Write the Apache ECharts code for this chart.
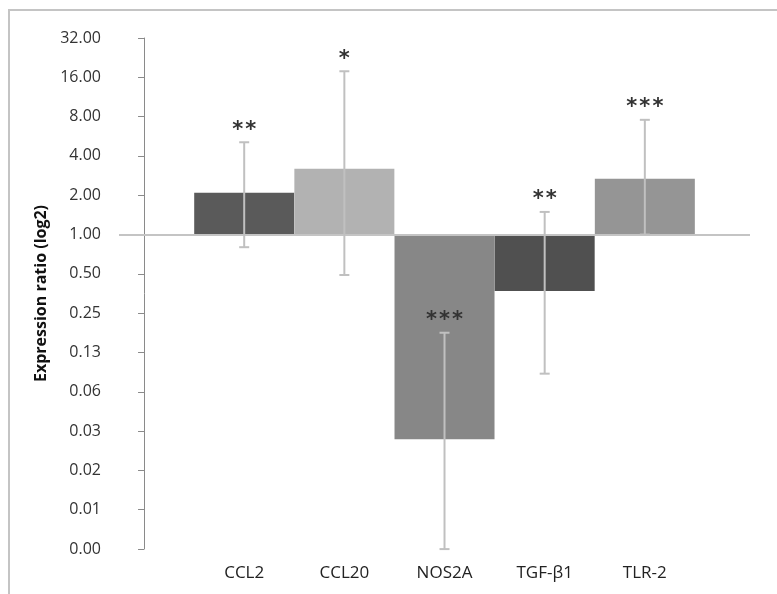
<!DOCTYPE html>
<html>
<head>
<meta charset="utf-8">
<script src="https://cdn.jsdelivr.net/npm/echarts@6/dist/echarts.min.js"></script>
<style>
  html, body { margin: 0; padding: 0; background: #fff; }
  #chart { width: 777px; height: 594px; }
</style>
</head>
<body>
<div id="chart"></div>
<script>
// Expression ratios (fold change)
const genes    = ['CCL2', 'CCL20', 'NOS2A', 'TGF-β1', 'TLR-2'];
const ratios   = [2.09, 3.19, 0.027, 0.37, 2.67];
const errLow   = [0.80, 0.49, 0.0039, 0.086, 1.0];
const errHigh  = [5.09, 17.8, 0.177, 1.49, 7.56];
const stars    = ['**', '*', '***', '**', '***'];
const barColors = ['#5a5a5a', '#b2b2b2', '#878787', '#505050', '#959595'];

const log2 = v => Math.log(v) / Math.LN2;

const chart = echarts.init(document.getElementById('chart'), null, { renderer: 'canvas' });

const barData = genes.map((g, i) => ({
  value: [i + 1, log2(ratios[i])],
  itemStyle: { color: barColors[i] }
}));

const errData = genes.map((g, i) => [i + 1, log2(errLow[i]), log2(errHigh[i]), stars[i]]);

chart.setOption({
  animation: false,
  textStyle: { fontFamily: 'Open Sans' },
  graphic: [{
    type: 'rect',
    shape: { x: 9, y: 10, width: 800, height: 620 },
    style: { fill: 'none', stroke: '#c4c4c4', lineWidth: 2 },
    silent: true
  }],
  grid: { left: 119, right: 27, top: 38, bottom: 45 },
  xAxis: {
    type: 'value',
    min: -0.25,
    max: 6.05,
    interval: 0.25,
    axisLine: { show: false },
    axisTick: { show: false },
    splitLine: { show: false },
    axisLabel: {
      margin: 16,
      fontSize: 17,
      color: '#222',
      formatter: v => {
        const r = Math.round(v);
        return (Math.abs(v - r) < 1e-6 && r >= 1 && r <= genes.length) ? genes[r - 1] : '';
      }
    }
  },
  yAxis: {
    type: 'value',
    min: -8,
    max: 5,
    interval: 1,
    name: 'Expression ratio (log2)',
    nameLocation: 'middle',
    nameGap: 65,
    nameTextStyle: { fontSize: 16, fontWeight: 'bold', color: '#111' },
    axisLine: { show: true, lineStyle: { color: '#8a8a8a', width: 1 } },
    axisTick: { show: true, length: 6, lineStyle: { color: '#8a8a8a' } },
    splitLine: { show: false },
    axisLabel: {
      margin: 18,
      fontSize: 16,
      color: '#333',
      formatter: v => Math.pow(2, v).toFixed(2)
    }
  },
  series: [{
    type: 'bar',
    barWidth: 100,
    data: barData,
    markLine: {
      silent: true,
      symbol: 'none',
      label: { show: false },
      lineStyle: { color: '#c4c4c4', width: 2, type: 'solid' },
      data: [{ yAxis: 0 }]
    }
  }, {
    type: 'custom',
    data: errData,
    z: 5,
    renderItem: (params, api) => {
      const x = api.value(0);
      const lo = api.coord([x, api.value(1)]);
      const hi = api.coord([x, api.value(2)]);
      const cap = 5;
      const stroke = { stroke: '#c0c0c0', lineWidth: 2 };
      return {
        type: 'group',
        children: [
          { type: 'line', shape: { x1: hi[0], y1: hi[1], x2: lo[0], y2: lo[1] }, style: stroke },
          { type: 'line', shape: { x1: hi[0] - cap, y1: hi[1], x2: hi[0] + cap, y2: hi[1] }, style: stroke },
          { type: 'line', shape: { x1: lo[0] - cap, y1: lo[1], x2: lo[0] + cap, y2: lo[1] }, style: stroke },
          {
            type: 'text',
            style: {
              x: hi[0], y: hi[1] - 12,
              text: stars[params.dataIndex].split('').join('\u200a'),
              align: 'center', verticalAlign: 'middle',
              fontSize: 21, fontWeight: 'bold', fontFamily: 'DejaVu Sans',
              fill: '#333'
            }
          }
        ]
      };
    }
  }]
});
</script>
</body>
</html>
